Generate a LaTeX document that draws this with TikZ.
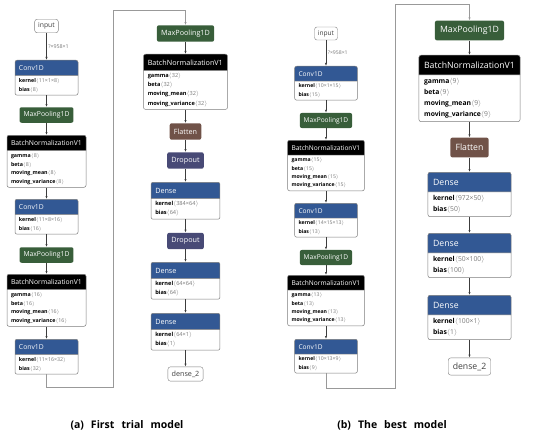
\documentclass[tikz,border=0pt]{standalone}
\usepackage{fontspec}
\setmainfont{Open Sans}
\usetikzlibrary{shapes.multipart,arrows.meta}

\definecolor{convblue}{RGB}{50,88,148}
\definecolor{poolgreen}{RGB}{56,94,58}
\definecolor{flatbrown}{RGB}{112,82,72}
\definecolor{dropviolet}{RGB}{72,74,118}
\definecolor{edgegray}{RGB}{125,125,125}
\definecolor{valgray}{RGB}{120,120,120}
\definecolor{wiregray}{RGB}{60,60,60}

\newdimen\hsz \hsz=6.8pt
\newdimen\bsz \bsz=5.3pt
\def\cs{1}
\newcommand\hfont{\fontsize{\hsz}{1.2\hsz}\selectfont}
\newcommand\bfont{\fontsize{\bsz}{1.62\bsz}\selectfont}
\newcommand\hd[1]{\hfont\color{white}\rule[-.5\hsz]{0pt}{1.75\hsz}\mbox{#1}}
\newcommand\bd[1]{\bfont\color{black}\rule{0pt}{.95\bsz}#1\rule[-.45\bsz]{0pt}{0pt}}
\newcommand\att[2]{\textbf{#1}{\color{valgray}$\langle$#2$\rangle$}}
\newcommand\gap{\hspace{7pt}}

\begin{document}
\begin{tikzpicture}[x=1pt,y=-1pt]
    \tikzset{
        column/.style={/utils/exec={\def\cs{#1}\pgfmathsetlength\hsz{6.8*#1}\pgfmathsetlength\bsz{5.3*#1}}},
        layer/.style={rectangle split, rectangle split parts=2, draw=edgegray, line width=.5pt,
            rectangle split part fill={#1,white}, rounded corners=2pt, align=left, font=\bfont,
            inner xsep=4*\cs, inner ysep=1.5*\cs, anchor=north},
        op/.style={fill=#1, text=white, rounded corners=2pt, minimum height=15.5*\cs,
            inner xsep=4*\cs, inner ysep=0pt, font=\hfont},
        io/.style={draw=edgegray, fill=white, text=black!75, rounded corners=2.5pt,
            minimum height=13.5*\cs, inner xsep=3.5*\cs, inner ysep=0pt, font=\hfont},
        dimlabel/.style={right, inner sep=1.5pt, text=valgray, font=\bfont},
        flow/.style={draw=wiregray, line width=.6pt, -{Latex[length=3pt,width=2.2pt]}},
        skip/.style={draw=black!40, line width=.5pt, -{Latex[length=3pt,width=2.2pt]}},
        caption/.style={font=\fontsize{10.5pt}{12pt}\selectfont\bfseries}
    }
    \useasboundingbox (0,0) rectangle (533,436);

    % (a) first trial model, left column
    \begin{scope}[column=1]
        \node[io] (ina) at (46.5,26) {input};
        \node[layer=convblue, text width=55pt] (ca1) at (46.5,60)
            {\hd{Conv1D}\nodepart{two}\bd{\att{kernel}{11×1×8}\\\att{bias}{8}}};
        \node[op=poolgreen] (pa1) at (46.5,115) {MaxPooling1D};
        \node[layer=black, text width=71pt] (ba1) at (46.5,135)
            {\hd{BatchNormalizationV1}\nodepart{two}\bd{\att{gamma}{8}\\\att{beta}{8}\\\att{moving\_mean}{8}\\\att{moving\_variance}{8}}};
        \node[layer=convblue, text width=55pt] (ca2) at (46.5,199)
            {\hd{Conv1D}\nodepart{two}\bd{\att{kernel}{11×8×16}\\\att{bias}{16}}};
        \node[op=poolgreen] (pa2) at (46.5,255) {MaxPooling1D};
        \node[layer=black, text width=71pt] (ba2) at (46.5,274)
            {\hd{BatchNormalizationV1}\nodepart{two}\bd{\att{gamma}{16}\\\att{beta}{16}\\\att{moving\_mean}{16}\\\att{moving\_variance}{16}}};
        \node[layer=convblue, text width=55pt] (ca3) at (46.5,339)
            {\hd{Conv1D}\nodepart{two}\bd{\att{kernel}{11×16×32}\\\att{bias}{32}}};
        \draw[flow] (ina) -- node[dimlabel] {?×958×1} (ca1);
    \end{scope}

    % (a) right column
    \begin{scope}[column=1.06]
        \node[op=poolgreen] (pb1) at (185.5,33.5) {MaxPooling1D};
        \node[layer=black, text width=75.5pt] (bb1) at (185.5,54)
            {\hd{BatchNormalizationV1}\nodepart{two}\bd{\att{gamma}{32}\\\att{beta}{32}\\\att{moving\_mean}{32}\\\att{moving\_variance}{32}}};
        \node[op=flatbrown] (fa) at (185.5,131.5) {Flatten};
        \node[op=dropviolet] (ra1) at (185.5,160.5) {Dropout};
        \node[layer=convblue, text width=60.5pt] (da1) at (185.5,182)
            {\hd{Dense}\nodepart{two}\bd{\att{kernel}{384×64}\\\att{bias}{64}}};
        \node[op=dropviolet] (ra2) at (185.5,241) {Dropout};
        \node[layer=convblue, text width=60.5pt] (da2) at (185.5,262)
            {\hd{Dense}\nodepart{two}\bd{\att{kernel}{64×64}\\\att{bias}{64}}};
        \node[layer=convblue, text width=60.5pt] (da3) at (185.5,313)
            {\hd{Dense}\nodepart{two}\bd{\att{kernel}{64×1}\\\att{bias}{1}}};
        \node[io] (outa) at (185.5,374) {dense\_2};
    \end{scope}

    \foreach \u/\v in {ca1/pa1,pa1/ba1,ba1/ca2,ca2/pa2,pa2/ba2,ba2/ca3,
                       pb1/bb1,bb1/fa,fa/ra1,ra1/da1,da1/ra2,ra2/da2,da2/da3,da3/outa}{
        \draw[flow] (\u) -- (\v);
    }
    \coordinate (ta1) at (113,387);
    \coordinate (ta2) at (113,10);
    \draw[skip] (ca3) |- (ta1) -- (ta2) -| (pb1);

    % (b) best model, left column
    \begin{scope}[column=0.97]
        \node[io] (inb) at (326,33.5) {input};
        \node[layer=convblue, text width=55pt] (cb1) at (326,66)
            {\hd{Conv1D}\nodepart{two}\bd{\att{kernel}{10×1×15}\\\att{bias}{15}}};
        \node[op=poolgreen] (pc1) at (326,120.5) {MaxPooling1D};
        \node[layer=black, text width=69pt] (bc1) at (326,140)
            {\hd{BatchNormalizationV1}\nodepart{two}\bd{\att{gamma}{15}\\\att{beta}{15}\\\att{moving\_mean}{15}\\\att{moving\_variance}{15}}};
        \node[layer=convblue, text width=55pt] (cb2) at (326,203)
            {\hd{Conv1D}\nodepart{two}\bd{\att{kernel}{14×15×13}\\\att{bias}{13}}};
        \node[op=poolgreen] (pc2) at (326,257.5) {MaxPooling1D};
        \node[layer=black, text width=69pt] (bc2) at (326,275)
            {\hd{BatchNormalizationV1}\nodepart{two}\bd{\att{gamma}{13}\\\att{beta}{13}\\\att{moving\_mean}{13}\\\att{moving\_variance}{13}}};
        \node[layer=convblue, text width=55pt] (cb3) at (326,339)
            {\hd{Conv1D}\nodepart{two}\bd{\att{kernel}{10×13×9}\\\att{bias}{9}}};
        \draw[flow] (inb) -- node[dimlabel] {?×958×1} (cb1);
    \end{scope}

    % (b) right column
    \begin{scope}[column=1.28]
        \node[op=poolgreen] (pd1) at (469.5,30.5) {MaxPooling1D};
        \node[layer=black, text width=90.8pt] (bd1) at (469.5,55)
            {\hd{BatchNormalizationV1}\nodepart{two}\bd{\att{gamma}{9}\\\att{beta}{9}\\\att{moving\_mean}{9}\\\att{moving\_variance}{9}}};
        \node[op=flatbrown] (fb) at (469.5,147.5) {Flatten};
        \node[layer=convblue, text width=72.8pt] (db1) at (469.5,172)
            {\hd{Dense}\nodepart{two}\bd{\att{kernel}{972×50}\\\att{bias}{50}}};
        \node[layer=convblue, text width=72.8pt] (db2) at (469.5,233)
            {\hd{Dense}\nodepart{two}\bd{\att{kernel}{50×100}\\\att{bias}{100}}};
        \node[layer=convblue, text width=72.8pt] (db3) at (469.5,295)
            {\hd{Dense}\nodepart{two}\bd{\att{kernel}{100×1}\\\att{bias}{1}}};
        \node[io] (outb) at (469.5,366.5) {dense\_2};
    \end{scope}

    \foreach \u/\v in {cb1/pc1,pc1/bc1,bc1/cb2,cb2/pc2,pc2/bc2,bc2/cb3,
                       pd1/bd1,bd1/fb,fb/db1,db1/db2,db2/db3,db3/outb}{
        \draw[flow] (\u) -- (\v);
    }
    \coordinate (tb1) at (395,388);
    \coordinate (tb2) at (395,4);
    \draw[skip] (cb3) |- (tb1) -- (tb2) -| (pd1);

    \node[caption] (capa) at (127,425) {(a)\gap First\gap trial\gap model};
    \node[caption] (capb) at (392,425) {(b)\gap The\gap best\gap model};
\end{tikzpicture}
\end{document}
